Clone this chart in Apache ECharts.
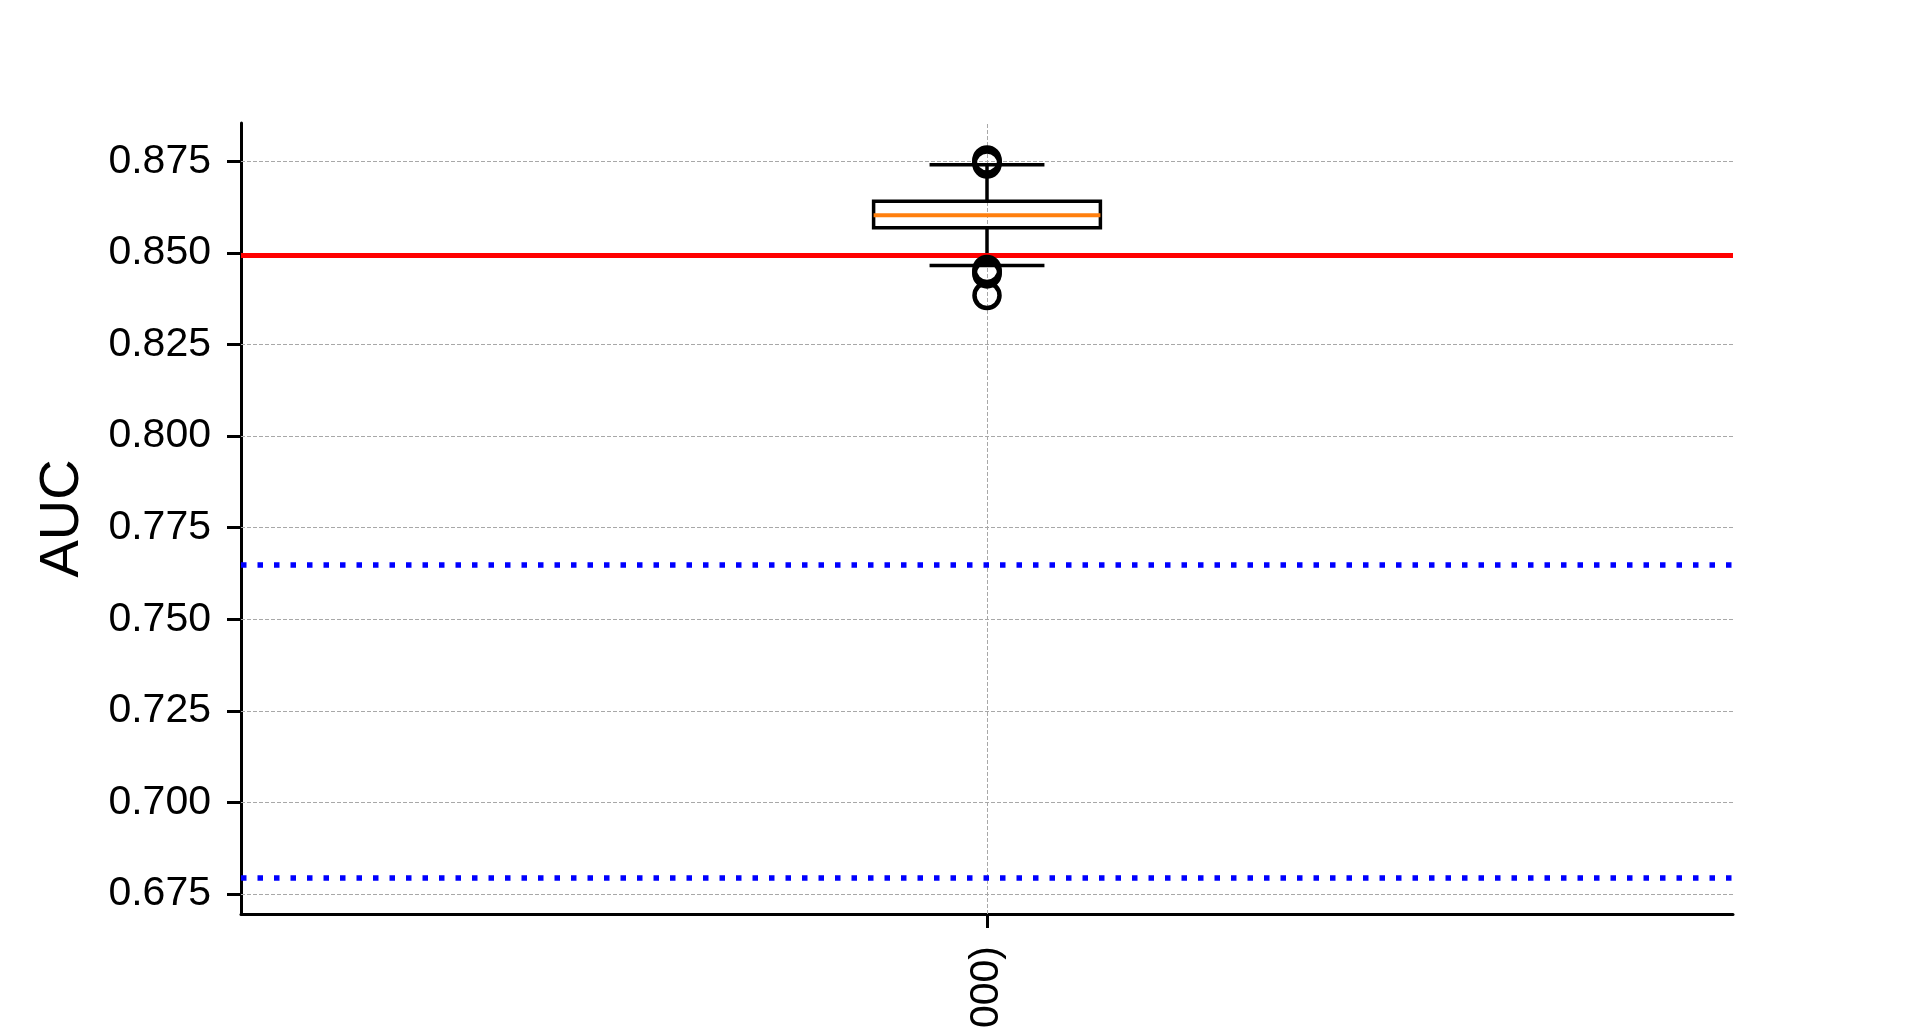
<!DOCTYPE html>
<html>
<head>
<meta charset="utf-8">
<script src="https://cdn.jsdelivr.net/npm/echarts@6/dist/echarts.min.js"></script>
<style>
html,body{margin:0;padding:0;background:#fff;}
#chart{width:1924px;height:1027px;}
</style>
</head>
<body>
<div id="chart"></div>
<script>
// ---- data ----
const categories = ['Bootstrap (n=1000)'];
// lower whisker, Q1, median, Q3, upper whisker
const boxStats = [0.8466, 0.8569, 0.8603, 0.8641, 0.8741];
const outliers = [0.8743, 0.8747, 0.8750, 0.8754, 0.8455, 0.8450, 0.8446, 0.8443, 0.8384];
const yTicks = [0.675, 0.700, 0.725, 0.750, 0.775, 0.800, 0.825, 0.850, 0.875];
const redLineValue = 0.8493;
const blueLineValues = [0.7648, 0.6795];
const yMin = 0.6695, yMax = 0.8855;

const FONT = '"Liberation Sans", Arial, sans-serif';
const chart = echarts.init(document.getElementById('chart'));

const gridLines = yTicks.map(v => ({ yAxis: v }));
gridLines.push({ xAxis: categories[0] });

chart.setOption({
  animation: false,
  backgroundColor: '#ffffff',
  grid: { left: 241, right: 191, top: 123, bottom: 113, containLabel: false, outerBoundsMode: 'none' },
  xAxis: {
    type: 'category',
    data: categories,
    boundaryGap: true,
    axisLine: { show: true, lineStyle: { color: '#000', width: 3 } },
    axisTick: { show: true, alignWithLabel: true, length: 14, lineStyle: { color: '#000', width: 3 } },
    axisLabel: { rotate: 90, margin: 32, fontSize: 41, color: '#000', fontFamily: FONT },
    splitLine: { show: false }
  },
  yAxis: {
    type: 'value',
    min: yMin,
    max: yMax,
    name: 'AUC',
    nameLocation: 'middle',
    nameRotate: 90,
    nameGap: 150,
    nameTextStyle: { fontSize: 56, color: '#000', fontFamily: FONT },
    axisLine: { show: true, lineStyle: { color: '#000', width: 3 } },
    axisTick: { show: true, length: 14, customValues: yTicks, lineStyle: { color: '#000', width: 3 } },
    axisLabel: {
      margin: 30, fontSize: 41, color: '#000', fontFamily: FONT,
      customValues: yTicks,
      formatter: v => v.toFixed(3)
    },
    splitLine: { show: false }
  },
  series: [
    {
      type: 'scatter',
      data: [],
      z: 1,
      silent: true,
      markLine: {
        z: 1,
        silent: true,
        precision: 6,
        symbol: 'none',
        label: { show: false },
        lineStyle: { color: '#a8a8a8', width: 1, type: [4, 2] },
        data: gridLines
      }
    },
    {
      type: 'custom',
      z: 3,
      silent: true,
      data: [[0].concat(boxStats)],
      encode: { x: 0, y: [1, 2, 3, 4, 5] },
      renderItem: function (params, api) {
        const x = api.value(0);
        const lo = api.coord([x, api.value(1)]);
        const q1 = api.coord([x, api.value(2)]);
        const med = api.coord([x, api.value(3)]);
        const q3 = api.coord([x, api.value(4)]);
        const hi = api.coord([x, api.value(5)]);
        const band = api.size([1, 0])[0];
        const bw = band * 0.152;
        const cw = band * 0.077;
        const cx = lo[0];
        const stroke = { stroke: '#000', lineWidth: 3.5, fill: null };
        return {
          type: 'group',
          children: [
            { type: 'line', shape: { x1: cx, y1: q1[1], x2: cx, y2: lo[1] }, style: stroke },
            { type: 'line', shape: { x1: cx, y1: q3[1], x2: cx, y2: hi[1] }, style: stroke },
            { type: 'line', shape: { x1: cx - cw / 2, y1: lo[1], x2: cx + cw / 2, y2: lo[1] }, style: stroke },
            { type: 'line', shape: { x1: cx - cw / 2, y1: hi[1], x2: cx + cw / 2, y2: hi[1] }, style: stroke },
            { type: 'rect', shape: { x: cx - bw / 2, y: q3[1], width: bw, height: q1[1] - q3[1] }, style: { stroke: '#000', lineWidth: 3.5, fill: 'none' } },
            { type: 'line', shape: { x1: cx - bw / 2, y1: med[1], x2: cx + bw / 2, y2: med[1] }, style: { stroke: '#ff7f0e', lineWidth: 4 } }
          ]
        };
      }
    },
    {
      type: 'scatter',
      z: 6,
      silent: true,
      symbol: 'circle',
      symbolSize: 25,
      itemStyle: { color: 'rgba(0,0,0,0)', borderColor: '#000', borderWidth: 4.5, opacity: 1 },
      data: outliers.map(v => [categories[0], v])
    },
    {
      type: 'scatter',
      data: [],
      z: 5,
      silent: true,
      markLine: {
        z: 5,
        silent: true,
        precision: 6,
        symbol: 'none',
        label: { show: false },
        data: [
          { yAxis: redLineValue, lineStyle: { color: '#ff0000', width: 5, type: 'solid' } }
        ].concat(blueLineValues.map(v => ({ yAxis: v, lineStyle: { color: '#0000ff', width: 5.5, type: [5.5, 11] } })))
      }
    }
  ]
});
</script>
</body>
</html>
